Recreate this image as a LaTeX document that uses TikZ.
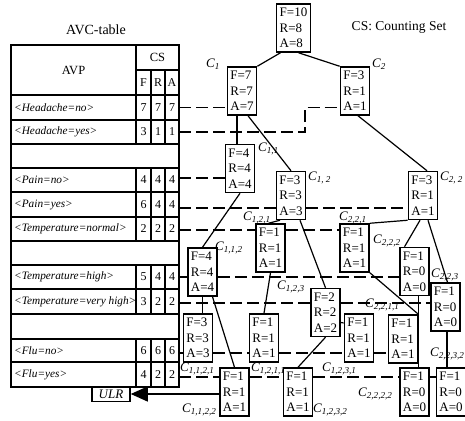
\documentclass[tikz,border=0pt]{standalone}
\usepackage{fontspec}
\setmainfont{Liberation Serif}
\usetikzlibrary{arrows.meta}
\newcommand{\fra}[3]{F=#1\\R=#2\\A=#3}
\newcommand{\cl}[1]{C\textsubscript{#1}}

\begin{document}
\begin{tikzpicture}[x=1pt, y=-1pt, every node/.style={font=\fontsize{13}{15.6}\selectfont}]
\tikzset{setbox/.style={draw, line width=1.5pt, align=left, inner xsep=3pt, inner ysep=0pt, minimum height=48pt}}
\tikzset{lab/.style={anchor=west, inner sep=0pt, font=\fontsize{13}{15}\selectfont\itshape}}
\tikzset{tline/.style={line width=1.5pt}}
\tikzset{tree/.style={line width=1.2pt}}
\tikzset{link/.style={line width=1.2pt, dash pattern=on 12pt off 5pt}}
\tikzset{avp/.style={anchor=west, inner sep=0pt, font=\fontsize{11.3}{13}\selectfont\itshape}}
\tikzset{num/.style={inner sep=0pt, font=\fontsize{12}{14}\selectfont}}
\useasboundingbox (0,0) rectangle (465,420);
\node[font=\fontsize{14}{16}\selectfont] (title) at (96,30) {AVC-table};
\node[font=\fontsize{13.5}{16}\selectfont] (legend) at (399,27) {CS: Counting Set};
% AVC-table
\draw[tline] (11,45) rectangle (179,387);
\draw[tline] (136,45) -- (136,95) (136,70) -- (179,70) (151,70) -- (151,95) (165,70) -- (165,95);
\node[font=\fontsize{12.5}{14}\selectfont] (avp) at (73.5,70) {AVP};
\node[font=\fontsize{12.5}{14}\selectfont] (cs) at (157.5,57.5) {CS};
\node[num] (hf) at (143.5,82.5) {F};
\node[num] (hr) at (158,82.5) {R};
\node[num] (ha) at (172,82.5) {A};
\foreach \ya/\yb/\yl/\nm/\txt/\vf/\vr/\va in {
  95/120/107.7/hno/Headache=no/7/7/7,
  120/144/132/hyes/Headache=yes/3/1/1,
  168/192/178/pno/Pain=no/4/4/4,
  192/217/208/pyes/Pain=yes/6/4/4,
  217/241/230/tnorm/Temperature=normal/2/2/2,
  265/289/277/thigh/Temperature=high/5/4/4,
  289/314/303/tvh/Temperature=very high/3/2/2,
  339/362/353/fno/Flu=no/6/6/6,
  362/387/377/fyes/Flu=yes/4/2/2}{
  \draw[tline] (11,\ya) -- (179,\ya) (11,\yb) -- (179,\yb);
  \draw[tline] (136,\ya) -- (136,\yb) (151,\ya) -- (151,\yb) (165,\ya) -- (165,\yb);
  \node[avp] (\nm-t) at (14,{(\ya+\yb)/2}) {<\txt>};
  \node[num] (\nm-f) at (143.5,{(\ya+\yb)/2}) {\vf};
  \node[num] (\nm-r) at (158,{(\ya+\yb)/2}) {\vr};
  \node[num] (\nm-a) at (172,{(\ya+\yb)/2}) {\va};
  \coordinate (\nm) at (179,\yl);
}
% counting sets
\node[setbox] (root) at (293.5,28) {\fra{10}{8}{8}};
\node[setbox] (C1) at (242,91) {\fra{7}{7}{7}};
\node[setbox] (C2) at (355,91) {\fra{3}{1}{1}};
\node[setbox] (C11) at (240,168.5) {\fra{4}{4}{4}};
\node[setbox] (C12) at (291,195.5) {\fra{3}{3}{3}};
\node[setbox] (C22) at (423,195.5) {\fra{3}{1}{1}};
\node[setbox] (C121) at (270.5,248) {\fra{1}{1}{1}};
\node[setbox] (C221) at (354.5,248) {\fra{1}{1}{1}};
\node[setbox] (C112) at (202.5,272) {\fra{4}{4}{4}};
\node[setbox] (C222) at (414.5,271.5) {\fra{1}{0}{0}};
\node[setbox] (C123) at (325.5,312.5) {\fra{2}{2}{2}};
\node[setbox] (C223) at (445.5,307) {\fra{1}{0}{0}};
\node[setbox] (C1121) at (198,338) {\fra{3}{3}{3}};
\node[setbox] (C1211) at (264,338) {\fra{1}{1}{1}};
\node[setbox] (C1231) at (359,338) {\fra{1}{1}{1}};
\node[setbox] (C2211) at (403,339) {\fra{1}{1}{1}};
\node[setbox] (C1122) at (234.5,392) {\fra{1}{1}{1}};
\node[setbox] (C1232) at (298,392) {\fra{1}{1}{1}};
\node[setbox] (C2222) at (414.5,392) {\fra{1}{0}{0}};
\node[setbox] (C2232) at (451,392) {\fra{1}{0}{0}};
\node[draw, line width=1.5pt, font=\fontsize{13}{15}\selectfont\itshape, inner sep=1pt, minimum width=38pt, minimum height=15pt] (ULR) at (111,394) {ULR};
% labels
\node[lab] (lC1) at (206,64) {\cl{1}};
\node[lab] (lC2) at (372,64) {\cl{2}};
\node[lab] (lC11) at (258,149) {\cl{1,1}};
\node[lab] (lC12) at (308,178) {\cl{1, 2}};
\node[lab] (lC22) at (440,178) {\cl{2, 2}};
\node[lab] (lC121) at (243,218) {\cl{1,2,1}};
\node[lab] (lC221) at (339,218) {\cl{2,2,1}};
\node[lab] (lC112) at (215,248) {\cl{1,1,2}};
\node[lab] (lC222) at (373,241) {\cl{2,2,2}};
\node[lab] (lC223) at (431,275) {\cl{2,2,3}};
\node[lab] (lC123) at (277,287) {\cl{1,2,3}};
\node[lab] (lC2211) at (365,305) {\cl{2,2,1,1}};
\node[lab] (lC1121) at (180,369) {\cl{1,1,2,1}};
\node[lab] (lC1211) at (251,369) {\cl{1,2,1,1}};
\node[lab] (lC1231) at (322,369) {\cl{1,2,3,1}};
\node[lab] (lC2232) at (430,354) {\cl{2,2,3,2}};
\node[lab] (lC1122) at (182,410) {\cl{1,1,2,2}};
\node[lab] (lC1232) at (313,410) {\cl{1,2,3,2}};
\node[lab] (lC2222) at (358,394) {\cl{2,2,2,2}};
% tree
\draw[tree] ([xshift=-13pt]root.south) -- (C1.north east);
\draw[tree] ([xshift=5pt]root.south) -- (C2.north west);
\draw[tree] ([xshift=-5pt]C1.south) -- ([xshift=-3pt]C11.north);
\draw[tree] ([xshift=6pt]C1.south) -- (C12.north);
\draw[tree] ([xshift=3pt]C2.south) -- ([xshift=4pt]C22.north);
\draw[tree] (C11.south) -- (C112.north);
\draw[tree] ([xshift=-11pt]C12.south) -- ([xshift=-2pt]C121.north);
\draw[tree] ([xshift=9pt]C12.south) -- (C123.north);
\draw[tree] (C22.south west) -- (C221.north east);
\draw[tree] ([xshift=-3pt]C22.south) -- ([xshift=-10pt]C222.north);
\draw[tree] ([xshift=5pt]C22.south) -- ([xshift=2pt]C223.north);
\draw[tree] (C112.south) -- (C112.south |- C1121.north);
\draw[tree] ([xshift=10pt]C112.south) -- (C1122.north);
\draw[tree] (C121.south) -- (C1211.north);
\draw[tree] (C123.south) -- (C1232.north);
\draw[tree] ([yshift=-10pt]C123.east) -- ([yshift=15pt]C1231.west);
\draw[tree] (C221.south east) -- (C2211.north east);
\draw[tree] ([xshift=4pt]C222.south) -- ([xshift=4pt]C2222.north);
\draw[tree] ([xshift=1.5pt]C223.south) -- ([xshift=-4pt]C2232.north);
\draw[tree, -{Triangle[length=17pt, width=15pt]}] (C1122.west |- ULR.east) -- (ULR.east);
% attribute-value links
\coordinate (kink) at (305,120);
\draw[link] (hno) -- (hno -| C1.west);
\draw[link] (hyes) -- (hyes -| kink) |- (hno -| C2.west);
\draw[link] (pno) -- (pno -| C11.west);
\draw[link] (pyes) -- (pyes -| C12.west) (pyes -| C12.east) -- (pyes -| C22.west);
\draw[link] (tnorm) -- (tnorm -| C121.west) (tnorm -| C121.east) -- (tnorm -| C221.west);
\draw[link] (thigh) -- (thigh -| C112.west) (thigh -| C112.east) -- (thigh -| C222.west);
\draw[link] (tvh) -- (tvh -| C123.west) (tvh -| C123.east) -- (tvh -| C223.west);
\draw[link] (fno) -- (fno -| C1121.west) (fno -| C1121.east) -- (fno -| C1211.west) (fno -| C1211.east) -- (fno -| C1231.west) (fno -| C1231.east) -- (fno -| C2211.west);
\draw[link] (fyes) -- (fyes -| C1122.west) (fyes -| C1122.east) -- (fyes -| C1232.west) (fyes -| C1232.east) -- (fyes -| C2222.west) (fyes -| C2222.east) -- (fyes -| C2232.west);
\end{tikzpicture}
\end{document}
